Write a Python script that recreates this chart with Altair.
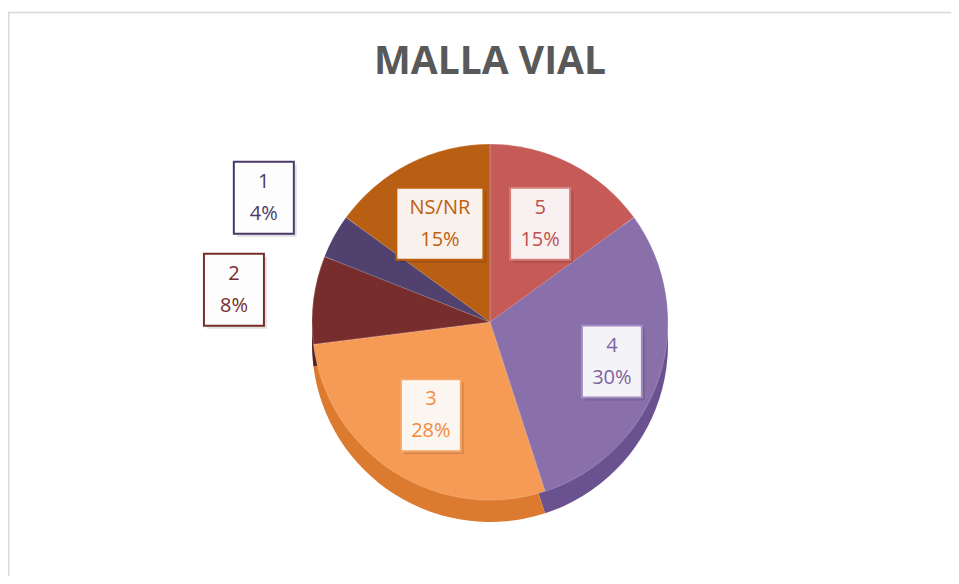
import altair as alt
import pandas as pd

# ---- data ----
title_text = "MALLA VIAL"
categories = ["5", "4", "3", "2", "1", "NS/NR"]
values = [15, 30, 28, 8, 4, 15]

# ---- styles ----
top_colors = ["#C55A57", "#8970AA", "#F59B55", "#782D2D", "#50416E", "#B95F14"]
side_colors = ["#9E3E3B", "#6A5290", "#DC7A30", "#5A1F1F", "#3A2E52", "#944A0E"]
text_colors = ["#C0504D", "#7F63A1", "#F28B3C", "#772C2A", "#4A3A6A", "#C0600F"]
box_colors = ["#D77D79", "#A08CC0", "#F7A465", "#772C2A", "#4A3A6A", "#C0600F"]

W, H = 943, 568
CX, CY, R, DEPTH = 482, 314, 178, 22

df = pd.DataFrame({
    "cat": categories,
    "value": values,
    "idx": list(range(len(categories))),
    "top": top_colors,
    "side": side_colors,
    "tcol": text_colors,
    "bcol": box_colors,
})

base = alt.Chart(df)

side = base.mark_arc(outerRadius=R).encode(
    theta=alt.Theta("value:Q", stack=True),
    order=alt.Order("idx:Q"),
    color=alt.Color("side:N", scale=None),
    x=alt.value(CX),
    y=alt.value(CY + DEPTH),
)

top = base.mark_arc(outerRadius=R, stroke="#ffffff", strokeWidth=0.6, strokeOpacity=0.35).encode(
    theta=alt.Theta("value:Q", stack=True),
    order=alt.Order("idx:Q"),
    color=alt.Color("top:N", scale=None),
    x=alt.value(CX),
    y=alt.value(CY),
)

labels = base.transform_joinaggregate(
    total="sum(value)"
).transform_window(
    cum="sum(value)", sort=[alt.SortField("idx")], frame=[None, 0]
).transform_calculate(
    frac="datum.value / datum.total",
    mid="(datum.cum - datum.value / 2) / datum.total * 2 * PI",
    lr=f"datum.value / datum.total < 0.1 ? {1.45 * R} : (datum.value / datum.total > 0.29 ? {0.72 * R} : {0.62 * R})",
    lx=f"{CX} + datum.lr * sin(datum.mid)",
    ly=f"{CY} - datum.lr * cos(datum.mid)",
    bw="length(datum.cat) > 3 ? 87 : 60",
    pct="format(datum.frac, '.0%')",
    bx1="datum.lx - datum.bw / 2",
    bx2="datum.lx + datum.bw / 2",
    by1="datum.ly - 36",
    by2="datum.ly + 36",
    sx1="datum.bx1 + 3",
    sx2="datum.bx2 + 3",
    sy1="datum.by1 + 3",
    sy2="datum.by2 + 3",
)

shadow = labels.mark_rect(fill="#000000", fillOpacity=0.12).encode(
    x=alt.X("sx1:Q", scale=None, axis=None),
    x2="sx2:Q",
    y=alt.Y("sy1:Q", scale=None, axis=None),
    y2="sy2:Q",
)

boxes = labels.mark_rect(fill="#ffffff", fillOpacity=0.92, strokeWidth=2).encode(
    x=alt.X("bx1:Q", scale=None, axis=None),
    x2="bx2:Q",
    y=alt.Y("by1:Q", scale=None, axis=None),
    y2="by2:Q",
    stroke=alt.Stroke("bcol:N", scale=None),
)

text1 = labels.mark_text(font="Open Sans", fontSize=20, dy=-16, baseline="middle").encode(
    x=alt.X("lx:Q", scale=None, axis=None),
    y=alt.Y("ly:Q", scale=None, axis=None),
    text="cat:N",
    color=alt.Color("tcol:N", scale=None),
)

text2 = labels.mark_text(font="Open Sans", fontSize=20, dy=16, baseline="middle").encode(
    x=alt.X("lx:Q", scale=None, axis=None),
    y=alt.Y("ly:Q", scale=None, axis=None),
    text="pct:N",
    color=alt.Color("tcol:N", scale=None),
)

title = alt.Chart(pd.DataFrame({"t": [title_text]})).mark_text(
    font="Open Sans", fontWeight="bold", fontSize=39, color="#595959", baseline="middle"
).encode(
    x=alt.value(482),
    y=alt.value(54),
    text="t:N",
)

frame_df = pd.DataFrame({"k": [0]})
border_top = alt.Chart(frame_df).mark_rule(color="#d9d9d9", strokeWidth=1.5).encode(
    x=alt.value(0), x2=alt.value(W), y=alt.value(4.5)
)
border_left = alt.Chart(frame_df).mark_rule(color="#d9d9d9", strokeWidth=1.5).encode(
    x=alt.value(0.8), y=alt.value(4), y2=alt.value(H)
)

chart = alt.layer(
    border_top, border_left, side, top, title, shadow, boxes, text1, text2
).properties(
    width=W,
    height=H,
    autosize=alt.AutoSizeParams(type="none"),
    padding=0,
    background="#ffffff",
).configure_view(stroke=None)

chart.save("out.html", embed_options={"renderer": "svg", "actions": False})
